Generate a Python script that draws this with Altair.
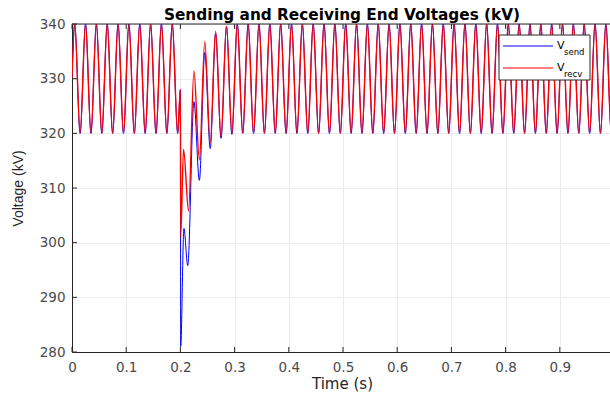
import altair as alt
import pandas as pd

# ---- data (extreme points of the 50 Hz waveform) ----
pre_t = [0.0, 0.005, 0.015, 0.025, 0.035, 0.045, 0.055, 0.065, 0.075, 0.085, 0.095,
         0.105, 0.115, 0.125, 0.135, 0.145, 0.155, 0.165, 0.175, 0.185, 0.195, 0.2]
pre_v = [330, 340, 320, 340, 320, 340, 320, 340, 320, 340, 320,
         340, 320, 340, 320, 340, 320, 340, 320, 340, 320, 328]

send_t = [0.2005, 0.2065, 0.2135, 0.225, 0.235, 0.245, 0.255, 0.265, 0.275, 0.285, 0.295]
send_v = [281, 302.6, 295.8, 325.8, 311.4, 334.8, 317.2, 338.2, 319.1, 339.5, 319.8]

recv_t = [0.2005, 0.2058, 0.215, 0.225, 0.235, 0.245, 0.255, 0.265, 0.275, 0.285, 0.295]
recv_v = [301, 317.1, 305.8, 331.4, 315.1, 336.8, 318.2, 338.7, 319.3, 339.6, 320]

post_t = [0.305, 0.315, 0.325, 0.335, 0.345, 0.355, 0.365, 0.375, 0.385, 0.395,
          0.405, 0.415, 0.425, 0.435, 0.445, 0.455, 0.465, 0.475, 0.485, 0.495,
          0.505, 0.515, 0.525, 0.535, 0.545, 0.555, 0.565, 0.575, 0.585, 0.595,
          0.605, 0.615, 0.625, 0.635, 0.645, 0.655, 0.665, 0.675, 0.685, 0.695,
          0.705, 0.715, 0.725, 0.735, 0.745, 0.755, 0.765, 0.775, 0.785, 0.795,
          0.805, 0.815, 0.825, 0.835, 0.845, 0.855, 0.865, 0.875, 0.885, 0.895,
          0.905, 0.915, 0.925, 0.935, 0.945, 0.955, 0.965, 0.975, 0.985, 0.995,
          1.0]
post_v = [340, 320, 340, 320, 340, 320, 340, 320, 340, 320,
          340, 320, 340, 320, 340, 320, 340, 320, 340, 320,
          340, 320, 340, 320, 340, 320, 340, 320, 340, 320,
          340, 320, 340, 320, 340, 320, 340, 320, 340, 320,
          340, 320, 340, 320, 340, 320, 340, 320, 340, 320,
          340, 320, 340, 320, 340, 320, 340, 320, 340, 320,
          340, 320, 340, 320, 340, 320, 340, 320, 340, 320,
          330]

x_ticks = [0, 0.1, 0.2, 0.3, 0.4, 0.5, 0.6, 0.7, 0.8, 0.9]
y_ticks = [280, 290, 300, 310, 320, 330, 340]

title_text = "Sending and Receiving End Voltages (kV)"
x_title = "Time (s)"
y_title = "Voltage (kV)"

send_df = pd.DataFrame({"t": pre_t + send_t + post_t, "v": pre_v + send_v + post_v})
recv_df = pd.DataFrame({"t": pre_t + recv_t + post_t, "v": pre_v + recv_v + post_v})

W, H = 538, 328
XMAX = 0.9926
AX = "#262626"
one = alt.Data(values=[{"a": 1}])

x_scale = alt.Scale(domain=[0, XMAX], nice=False, zero=False)
y_scale = alt.Scale(domain=[280, 340], nice=False, zero=False)

x_axis = alt.Axis(values=x_ticks, format="~g", title=x_title, grid=True,
                  gridColor="#ebebeb", gridWidth=1, ticks=False, domainColor=AX,
                  labelFont="DejaVu Sans", labelFontSize=13.5, labelColor="#4a4a4a",
                  labelPadding=8, labelFlush=False,
                  titleFont="DejaVu Sans", titleFontSize=15, titleFontWeight="normal",
                  titleColor=AX, titleX=270, titleY=31, titleBaseline="middle",
                  titleAlign="center")
y_axis = alt.Axis(values=y_ticks, title=y_title, grid=True,
                  gridColor="#ebebeb", gridWidth=1, ticks=False, domainColor=AX,
                  labelFont="DejaVu Sans", labelFontSize=13.5, labelColor="#4a4a4a",
                  labelPadding=7, labelFlush=False,
                  titleFont="Liberation Sans", titleFontSize=14, titleFontWeight="normal",
                  titleColor=AX, titleX=-54, titleY=H / 2, titleAngle=270,
                  titleBaseline="middle", titleAlign="center")

X = alt.X("t:Q", scale=x_scale, axis=x_axis)
Y = alt.Y("v:Q", scale=y_scale, axis=y_axis)

line_send = alt.Chart(send_df).mark_line(
    color="#0000ff", strokeWidth=1.0, interpolate="monotone", clip=True
).encode(x=X, y=Y)
line_recv = alt.Chart(recv_df).mark_line(
    color="#ff0000", strokeWidth=1.4, interpolate="monotone", clip=True
).encode(x=X, y=Y)

xt = pd.DataFrame({"t": x_ticks})
yt = pd.DataFrame({"v": y_ticks})
xtick_bot = alt.Chart(xt).mark_rule(color=AX, strokeWidth=1).encode(
    x=X, y=alt.value(H), y2=alt.value(H - 5))
xtick_top = alt.Chart(xt).mark_rule(color=AX, strokeWidth=1).encode(
    x=X, y=alt.value(0), y2=alt.value(5))
ytick = alt.Chart(yt).mark_rule(color=AX, strokeWidth=1).encode(
    y=Y, x=alt.value(0), x2=alt.value(5))
top_border = alt.Chart(one).mark_rule(color=AX, strokeWidth=1).encode(
    x=alt.value(0), x2=alt.value(W), y=alt.value(0))

title_mark = alt.Chart(one).mark_text(
    text=title_text, align="center", baseline="alphabetic", font="DejaVu Sans",
    fontSize=15.3, fontWeight="bold", color="#000000"
).encode(x=alt.value(270), y=alt.value(-4.5))

# legend
leg_box = alt.Chart(one).mark_rect(fill="white", stroke=AX, strokeWidth=1).encode(
    x=alt.value(427), x2=alt.value(518), y=alt.value(11), y2=alt.value(56))
leg_send = alt.Chart(one).mark_rule(color="#0000ff", strokeWidth=1.2).encode(
    x=alt.value(431), x2=alt.value(481), y=alt.value(22))
leg_recv = alt.Chart(one).mark_rule(color="#ff0000", strokeWidth=1.2).encode(
    x=alt.value(431), x2=alt.value(481), y=alt.value(44))

def txt(s, x, y, size):
    return alt.Chart(one).mark_text(
        text=s, align="left", baseline="alphabetic", font="DejaVu Sans",
        fontSize=size, color="#000000"
    ).encode(x=alt.value(x), y=alt.value(y))

leg_texts = [txt("V", 485, 24.5, 11), txt("send", 492, 31, 8.5),
             txt("V", 485, 46.5, 11), txt("recv", 492, 53, 8.5)]

chart = alt.layer(
    line_send, line_recv, xtick_bot, xtick_top, ytick, top_border, title_mark,
    leg_box, leg_send, leg_recv, *leg_texts
).properties(
    width=W, height=H,
    autosize=alt.AutoSizeParams(type="none"),
    padding={"left": 72, "top": 24, "right": 0, "bottom": 43},
).configure_view(stroke=None).configure(background="white")

chart.save("out.html", embed_options={"renderer": "svg", "actions": False})
